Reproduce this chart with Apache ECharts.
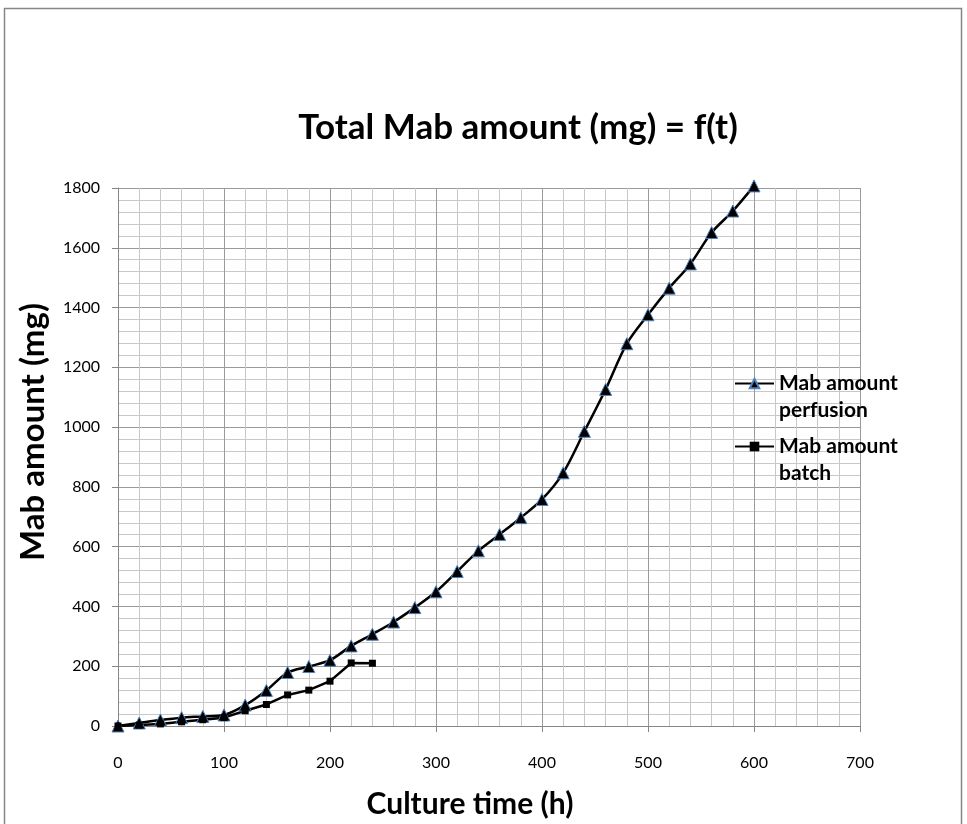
<!DOCTYPE html>
<html>
<head>
<meta charset="utf-8">
<script src="https://cdn.jsdelivr.net/npm/echarts@6/dist/echarts.min.js"></script>
<style>html,body{margin:0;padding:0;background:#fff}#c{width:967px;height:824px}</style>
</head>
<body>
<div id="c"></div>
<script>
const timeH = [0,20,40,60,80,100,120,140,160,180,200,220,240,260,280,300,320,340,360,380,400,420,440,460,480,500,520,540,560,580,600];
const perfusion = [0,10,20,28,32,37,70,119,179,199,220,268,307,348,396,449,517,586,641,697,758,847,986,1126,1279,1376,1465,1546,1651,1723,1807];
const batchTime = [0,20,40,60,80,100,120,140,160,180,200,220,240];
const batch = [0,3,7,14,21,28,51,72,104,120,150,211,210];
const xTicks = [0,100,200,300,400,500,600,700];
const yTicks = [0,200,400,600,800,1000,1200,1400,1600,1800];

const FONT = "Lato, sans-serif";
const chart = echarts.init(document.getElementById('c'), null, {renderer:'canvas'});
chart.setOption({
  animation:false,
  backgroundColor:'#fff',
  textStyle:{fontFamily:FONT},
  title:{text:'Total Mab amount (mg) = f(t)', left:513, top:105, textAlign:'center',
    textStyle:{fontFamily:FONT, fontWeight:'bold', fontSize:35, color:'#000'}},
  graphic:[
    {type:'rect', shape:{x:4.5,y:8.5,width:957,height:830}, style:{fill:'none', stroke:'#868686', lineWidth:1.5}, silent:true},
    {type:'text', x:33, y:432, rotation:Math.PI/2, silent:true,
     style:{text:'Mab amount (mg)', align:'center', verticalAlign:'middle', fill:'#000',
            font:"bold 33px Lato, sans-serif"}}
  ],
  grid:{left:118, top:188, width:742, height:539},
  xAxis:{type:'value', min:xTicks[0], max:xTicks[xTicks.length-1], interval:100,
    name:'Culture time (h)', nameLocation:'middle', nameGap:63,
    nameTextStyle:{fontFamily:FONT, fontWeight:'bold', fontSize:30, color:'#000', padding:[0,38,0,0]},
    axisLine:{show:true, lineStyle:{color:'#868686', width:1}},
    axisTick:{show:true, length:6, lineStyle:{color:'#868686'}},
    axisLabel:{margin:29, fontSize:16, color:'#000', fontFamily:FONT},
    splitLine:{show:true, lineStyle:{color:'#9a9a9a', width:1}},
    minorTick:{show:false, splitNumber:5},
    minorSplitLine:{show:true, lineStyle:{color:'#c8c8c8', width:1}}
  },
  yAxis:{type:'value', min:yTicks[0], max:yTicks[yTicks.length-1], interval:200,
    axisLine:{show:true, lineStyle:{color:'#868686', width:1}},
    axisTick:{show:true, length:6, lineStyle:{color:'#868686'}},
    axisLabel:{margin:18, fontSize:16, color:'#000', fontFamily:FONT, formatter:v=>String(v)},
    splitLine:{show:true, lineStyle:{color:'#9a9a9a', width:1}},
    minorTick:{show:false, splitNumber:5},
    minorSplitLine:{show:true, lineStyle:{color:'#c8c8c8', width:1}}
  },
  legend:[
    {left:734, top:343, padding:0, orient:'vertical', itemWidth:39, itemHeight:12,
     data:[{name:'Mab amount perfusion'}],
     formatter:()=>' \nMab amount\nperfusion',
     textStyle:{fontFamily:FONT, fontWeight:'bold', fontSize:21, color:'#000', lineHeight:27}},
    {left:734, top:406, padding:0, orient:'vertical', itemWidth:39, itemHeight:12,
     data:[{name:'Mab amount batch'}],
     formatter:()=>' \nMab amount\nbatch',
     textStyle:{fontFamily:FONT, fontWeight:'bold', fontSize:21, color:'#000', lineHeight:27}}
  ],
  series:[
    {name:'Mab amount perfusion', type:'line', smooth:0.3, clip:false,
     data:timeH.map((t,i)=>[t,perfusion[i]]),
     symbol:'triangle', symbolSize:12,
     itemStyle:{color:'#000', borderColor:'#4f81bd', borderWidth:1},
     lineStyle:{color:'#000', width:2.5}},
    {name:'Mab amount batch', type:'line', clip:false,
     data:batchTime.map((t,i)=>[t,batch[i]]),
     symbol:'rect', symbolSize:7,
     itemStyle:{color:'#000'},
     lineStyle:{color:'#000', width:2.5}}
  ]
});
</script>
</body>
</html>
